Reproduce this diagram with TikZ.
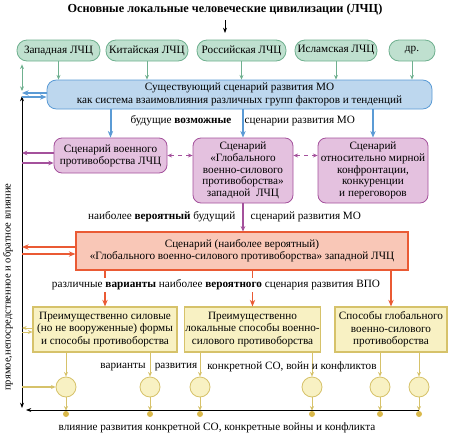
\documentclass[tikz,border=0pt]{standalone}
\usepackage{fontspec}
\setmainfont{Liberation Serif}[Ligatures=TeX]
\usetikzlibrary{positioning,arrows.meta,calc}
\definecolor{cGreenF}{HTML}{BFE0CF}
\definecolor{cGreenD}{HTML}{6FB08F}
\definecolor{cBlueF}{HTML}{BDD7EE}
\definecolor{cBlueD}{HTML}{5B9BD5}
\definecolor{cPurpF}{HTML}{E4C1DF}
\definecolor{cPurpD}{HTML}{A4519C}
\definecolor{cRedF}{HTML}{F9C7B7}
\definecolor{cRedD}{HTML}{EA5A34}
\definecolor{cYelF}{HTML}{F8F1C3}
\definecolor{cYelD}{HTML}{D6C26A}
\definecolor{cYelDot}{HTML}{D9B84A}

\begin{document}
\begin{tikzpicture}[x=0.75pt,y=-0.75pt,
      every node/.style={font=\rmfamily\fontsize{8.4}{10}\selectfont},
      lchc/.style={draw=cGreenD,fill=cGreenF,rounded corners=7.5pt,minimum height=15.75pt,
                   inner sep=1pt,line width=0.6pt},
      mobox/.style={draw=cBlueD,fill=cBlueF,rounded corners=7pt,align=center,inner sep=1pt,
                    line width=0.6pt},
      scen/.style={draw=cPurpD,fill=cPurpF,rounded corners=6pt,align=center,inner sep=1pt,
                   line width=0.6pt,font=\rmfamily\fontsize{8.4}{8.8}\selectfont},
      mainscen/.style={draw=cRedD,fill=cRedF,align=center,inner sep=1pt,line width=0.8pt,
                       font=\rmfamily\fontsize{8.4}{9}\selectfont},
      sposob/.style={draw=cYelD,fill=cYelF,align=center,inner sep=1pt,line width=0.8pt,
                     minimum height=33.75pt,font=\rmfamily\fontsize{8.4}{9.4}\selectfont},
      varc/.style={circle,draw=cYelD,fill=cYelF,minimum size=15pt,inner sep=0pt,line width=0.6pt},
      enddot/.style={circle,fill=cYelDot,minimum size=4.5pt,inner sep=0pt},
      lbl/.style={inner sep=1pt},
      garr/.style={draw=cGreenD,line width=0.6pt,-{Stealth[length=3.5pt,width=3pt]}},
      barr/.style={draw=cBlueD,line width=1.5pt,-{Stealth[length=5pt,width=4pt]}},
      parr/.style={draw=cPurpD,line width=1.1pt,-{Stealth[length=4pt,width=3.5pt]}},
      rarr/.style={draw=cRedD,line width=1.4pt,-{Stealth[length=5pt,width=4pt]}},
      yarr/.style={draw=cYelD,line width=0.7pt,-{Stealth[length=3.5pt,width=3pt]}},
      karr/.style={draw=black,line width=0.6pt,-{Stealth[length=4pt,width=3pt]}}]
    \useasboundingbox (0,0) rectangle (451,436);

    % title and civilisations
    \node[font=\rmfamily\bfseries\fontsize{9.2}{11}\selectfont] (title) at (225,10)
      {Основные локальные человеческие цивилизации (ЛЧЦ)};
    \coordinate (tend) at (225,33);
    \node[lchc,minimum width=62.25pt] (zap) at (58.5,50.5) {Западная ЛЧЦ};
    \node[lchc,minimum width=61.5pt]  (kit) at (147,50.5)  {Китайская ЛЧЦ};
    \node[lchc,minimum width=66.75pt] (ros) at (241.5,50.5) {Российская ЛЧЦ};
    \node[lchc,minimum width=61.5pt]  (isl) at (336,50.5)  {Исламская ЛЧЦ};
    \node[lchc,minimum width=34.5pt]  (dr)  at (412,50.5)  {др.};

    % scenarios
    \node[mobox,minimum width=288.75pt,minimum height=21.75pt] (mo) at (239.5,94.5)
      {Существующий сценарий развития МО\\как система взаимовлияния различных групп факторов и тенденций};
    \node[scen,minimum width=84.75pt,minimum height=26.25pt] (sc1) at (110.5,155.5)
      {Сценарий военного\\противоборства ЛЧЦ};
    \node[scen,minimum width=75pt,minimum height=48.75pt] (sc2) at (243,170.5)
      {Сценарий\\«Глобального\\военно-силового\\противоборства»\\западной\ \ ЛЧЦ};
    \node[scen,minimum width=82.5pt,minimum height=48.75pt] (sc3) at (373,170.5)
      {Сценарий\\относительно мирной\\конфронтации,\\конкуренции\\и переговоров};
    \node[mainscen,minimum width=249pt,minimum height=28.5pt] (msc) at (242,251)
      {Сценарий (наиболее вероятный)\\«Глобального военно-силового противоборства» западной ЛЧЦ};

    % ways of confrontation
    \node[sposob,minimum width=108pt]   (sp1) at (105,329.5)
      {Преимущественно силовые\\(но не вооруженные) формы\\и способы противоборства};
    \node[sposob,minimum width=98.25pt] (sp2) at (252.5,329.5)
      {Преимущественно\\локальные способы военно-\\силового противоборства};
    \node[sposob,minimum width=84pt]    (sp3) at (391,329.5)
      {Способы глобального\\военно-силового\\противоборства};

    \foreach \i/\x in {1/66,2/150,3/200,4/312,5/380,6/419}{
      \node[varc] (c\i) at (\x,387) {};
      \node[enddot] (d\i) at (\x,414) {};
    }

    % left spine
    \coordinate (stop) at (22,96);
    \coordinate (sbot) at (22,408);
    \coordinate (hl) at (26,410);

    % connectors
    \draw[karr] (title.south) -- (tend);
    \foreach \n in {zap,kit,ros,isl,dr}
      \draw[garr] (\n.south) -- (\n.south |- mo.north);
    \foreach \n in {sc1,sc2,sc3}
      \draw[barr] (\n.north |- mo.south) -- (\n.north);
    \draw[parr] (sc2.south) -- (sc2.south |- msc.north);
    \foreach \n in {sp1,sp2,sp3}
      \draw[rarr] (\n.north |- msc.south) -- (\n.north);
    \foreach \i/\b in {1/sp1,2/sp1,3/sp2,4/sp2,5/sp3,6/sp3}{
      \draw[yarr] (c\i |- \b.south) -- (c\i.north);
      \draw[yarr] (c\i.south) -- (d\i.north);
    }
    \draw[parr,line width=0.7pt,dashed,{Stealth[length=3.5pt,width=3pt]}-{Stealth[length=3.5pt,width=3pt]}]
      (sc1.east) -- (sc1.east -| sc2.west);
    \draw[parr,line width=0.7pt,dashed,{Stealth[length=3.5pt,width=3pt]}-{Stealth[length=3.5pt,width=3pt]}]
      (sc1.east -| sc2.east) -- (sc1.east -| sc3.west);

    \draw[karr,{Stealth[length=4pt,width=3pt]}-{Stealth[length=4pt,width=3pt]}] (stop) -- (sbot);
    \draw[karr] (d6 |- hl) -- (hl);
    \draw[garr,{Stealth[length=3.5pt,width=3pt]}-{Stealth[length=3.5pt,width=3pt]}]
      ($(stop |- zap.south)+(0,3)$) -- ($(stop)+(0,-5)$);
    \draw[barr,line width=0.8pt] ($(mo.west)+(0,-1.5)$) -- ($(mo.west -| stop)+(0,-1.5)$);
    \draw[barr,line width=1.2pt] ($(mo.west -| stop)+(0,2.5)$) -- ($(mo.west)+(0,2.5)$);
    \draw[parr,line width=0.8pt] ($(sc1.west)+(0,-2.5)$) -- ($(sc1.west -| stop)+(0,-2.5)$);
    \draw[parr] ($(sc1.west -| stop)+(0,7.5)$) -- ($(sc1.west)+(0,7.5)$);
    \draw[rarr,line width=0.8pt] ($(msc.west)+(0,-4)$) -- ($(msc.west -| stop)+(0,-4)$);
    \draw[rarr] ($(msc.west -| stop)+(0,3)$) -- ($(msc.west)+(0,3)$);
    \draw[yarr,line width=0.5pt] ($(sp1.west)+(0,-1.5)$) -- ($(sp1.west -| stop)+(0,-1.5)$);
    \draw[yarr,line width=0.5pt] ($(sp1.west -| stop)+(0,2.5)$) -- ($(sp1.west)+(0,2.5)$);
    \draw[yarr,line width=1pt] (c1.west -| stop) -- (c1.west);

    % labels
    \node[lbl,anchor=east] (lb1) at (233,121) {будущие \textbf{возможные}};
    \node[lbl,anchor=west] (lb2) at (243,121) {сценарии развития МО};
    \node[lbl,anchor=east] (lb3) at (237,217) {наиболее \textbf{вероятный} будущий};
    \node[lbl,anchor=west] (lb4) at (249,217) {сценарий развития МО};
    \node[lbl,fill=white] (lb5) at (216,285)
      {различные \textbf{варианты} наиболее \textbf{вероятного} сценария развития ВПО};
    \node[lbl] (lb6) at (123,367) {варианты};
    \node[lbl] (lb7) at (176,367) {развития};
    \node[lbl] (lb8) at (292,367) {конкретной СО, войн и конфликтов};
    \node[lbl] (lb9) at (217,428) {влияние развития конкретной СО, конкретные войны и конфликта};
    \node[lbl,rotate=90,font=\rmfamily\fontsize{7.9}{9}\selectfont] (lb10) at (8,287)
      {прямое,непосредственное и обратное влияние};
  \end{tikzpicture}
\end{document}
